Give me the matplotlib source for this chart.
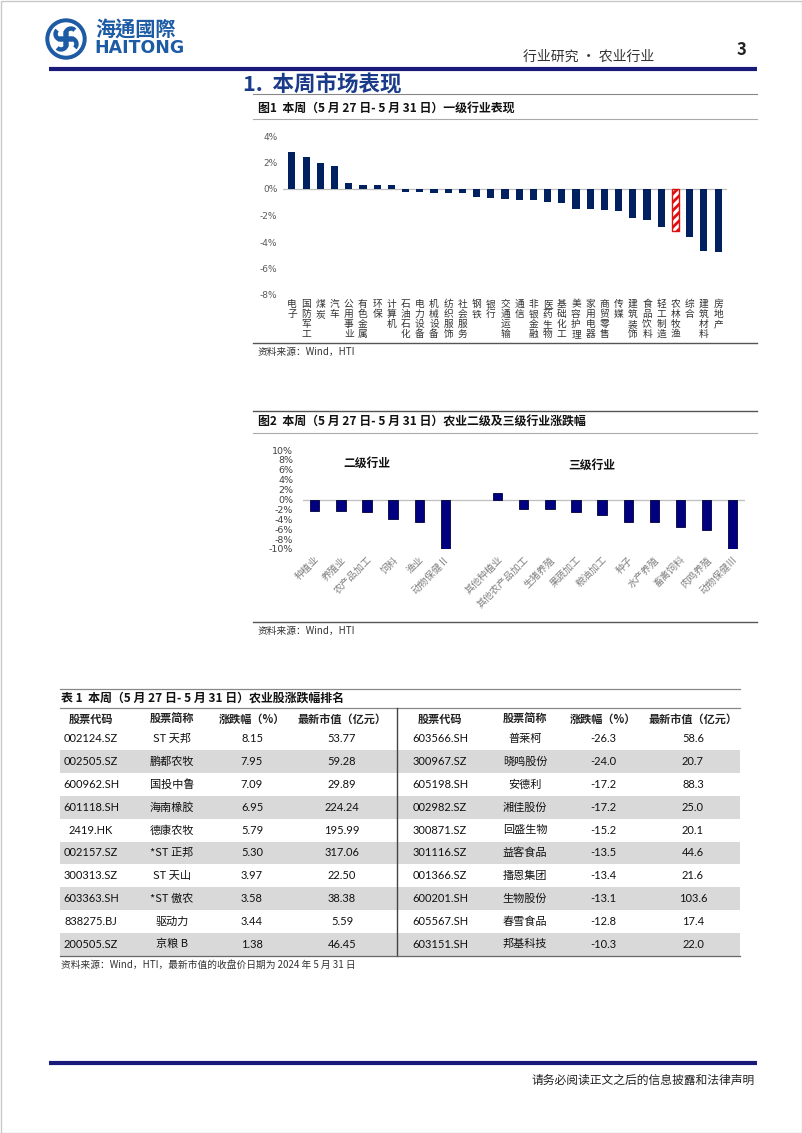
import numpy as np
import matplotlib
matplotlib.use("Agg")
import matplotlib.pyplot as plt
from matplotlib.patches import Circle, Rectangle, Arc
from matplotlib.transforms import blended_transform_factory

plt.rcParams['font.family'] = ['Noto Sans CJK SC', 'DejaVu Sans']
plt.rcParams['hatch.linewidth'] = 2.0

W, H = 802, 1133
NAVY = '#002060'
BLUE = '#1d5ba4'
LATIN = ['Lato', 'Noto Sans CJK SC']

# ---- data: chart 1 (一级行业) ----
ind1_names = ['电子', '国防军工', '煤炭', '汽车', '公用事业', '有色金属', '环保', '计算机',
              '石油石化', '电力设备', '机械设备', '纺织服饰', '社会服务', '钢铁', '银行',
              '交通运输', '通信', '非银金融', '医药生物', '基础化工', '美容护理', '家用电器',
              '商贸零售', '传媒', '建筑装饰', '食品饮料', '轻工制造', '农林牧渔', '综合',
              '建筑材料', '房地产']
ind1_values = [2.83, 2.40, 2.00, 1.70, 0.45, 0.30, 0.30, 0.30, -0.20, -0.20, -0.30, -0.30,
               -0.30, -0.60, -0.70, -0.75, -0.80, -0.85, -0.95, -1.03, -1.48, -1.53, -1.58,
               -1.63, -2.20, -2.33, -2.88, -3.15, -3.65, -4.65, -4.75]
highlight = '农林牧渔'
ind1_ticks = [4, 2, 0, -2, -4, -6, -8]

# ---- data: chart 2 (二级 / 三级) ----
ind2_names = ['种植业', '养殖业', '农产品加工', '饲料', '渔业', '动物保健Ⅱ']
ind2_values = [-2.4, -2.4, -2.5, -3.9, -4.5, -10.1]
ind3_names = ['其他种植业', '其他农产品加工', '生猪养殖', '果蔬加工', '粮油加工', '种子',
              '水产养殖', '畜禽饲料', '肉鸡养殖', '动物保健Ⅲ']
ind3_values = [1.3, -1.9, -2.0, -2.6, -3.1, -4.5, -4.5, -5.6, -6.1, -10.1]
ind23_ticks = [10, 8, 6, 4, 2, 0, -2, -4, -6, -8, -10]

# ---- data: table ----
table_header = ['股票代码', '股票简称', '涨跌幅（%）', '最新市值（亿元）']
gain_codes = ['002124.SZ', '002505.SZ', '600962.SH', '601118.SH', '2419.HK',
              '002157.SZ', '300313.SZ', '603363.SH', '838275.BJ', '200505.SZ']
gain_names = ['ST 天邦', '鹏都农牧', '国投中鲁', '海南橡胶', '德康农牧',
              '*ST 正邦', 'ST 天山', '*ST 傲农', '驱动力', '京粮 B']
gain_pct = ['8.15', '7.95', '7.09', '6.95', '5.79', '5.30', '3.97', '3.58', '3.44', '1.38']
gain_cap = ['53.77', '59.28', '29.89', '224.24', '195.99', '317.06', '22.50', '38.38', '5.59', '46.45']
loss_codes = ['603566.SH', '300967.SZ', '605198.SH', '002982.SZ', '300871.SZ',
              '301116.SZ', '001366.SZ', '600201.SH', '605567.SH', '603151.SH']
loss_names = ['普莱柯', '晓鸣股份', '安德利', '湘佳股份', '回盛生物',
              '益客食品', '播恩集团', '生物股份', '春雪食品', '邦基科技']
loss_pct = ['-26.3', '-24.0', '-17.2', '-17.2', '-15.2', '-13.5', '-13.4', '-13.1', '-12.8', '-10.3']
loss_cap = ['58.6', '20.7', '88.3', '25.0', '20.1', '44.6', '21.6', '103.6', '17.4', '22.0']


def fig_rect(left, top, right, bottom):
    return [left / W, 1 - bottom / H, (right - left) / W, (bottom - top) / H]


fig = plt.figure(figsize=(W / 100, H / 100), dpi=100)
page = fig.add_axes([0, 0, 1, 1])
page.set_xlim(0, W)
page.set_ylim(H, 0)
page.axis('off')

# page border
page.add_patch(Rectangle((0.5, 0.5), W - 1, H - 1, fill=False, ec='#c8c8c8', lw=1))

# ---- logo ----
cx, cy = 66, 39
page.add_patch(Circle((cx, cy), 20, color=BLUE))
page.add_patch(Circle((cx, cy), 16, color='white'))
for ang in [45, 135, 225, 315]:
    dx, dy = 7 * np.cos(np.radians(ang)), 7 * np.sin(np.radians(ang))
    page.add_patch(Arc((cx + dx, cy + dy), 11, 11, angle=ang, theta1=90, theta2=360,
                       color=BLUE, lw=3.2))
page.add_patch(Circle((cx, cy), 2.2, color=BLUE))
page.text(95, 29, '海通國際', family=['Noto Sans CJK TC'], fontsize=14.5, color=BLUE,
          fontweight='bold', va='center', ha='left')
page.text(94, 48, 'HAITONG', family=['DejaVu Sans'], fontsize=12.5, color=BLUE,
          fontweight='bold', va='center', ha='left')

page.text(523, 57, '行业研究 • 农业行业', fontsize=10, color='#333333', va='center', ha='left')
page.text(741, 50, '3', fontsize=12, fontweight='bold', color='#222222', va='center', ha='center')
page.plot([49, 757], [69, 69], color='#1a1a7a', lw=3, solid_capstyle='butt')

page.text(243, 85, '1.  本周市场表现', fontsize=15.5, fontweight='bold', color='#1a3a8a',
          va='center', ha='left')
page.plot([253, 757], [94, 94], color='#888888', lw=0.8)

# ---- chart 1 captions ----
page.text(258, 108, '图1  本周（5 月 27 日- 5 月 31 日）一级行业表现', fontsize=8.6,
          fontweight='bold', color='#111111', va='center', ha='left')
page.plot([253, 757], [119, 119], color='#aaaaaa', lw=0.8)
page.plot([253, 757], [343, 343], color='#555555', lw=1.0)
page.text(258, 352, '资料来源：Wind，HTI', fontsize=7, color='#333333', va='center', ha='left')

ax1 = fig.add_axes(fig_rect(283, 136, 727, 295))
x1 = np.arange(len(ind1_names))
colors1 = ['white' if n == highlight else NAVY for n in ind1_names]
bars1 = ax1.bar(x1, ind1_values, width=0.5, color=colors1, zorder=3)
for b, n in zip(bars1, ind1_names):
    if n == highlight:
        b.set_edgecolor('#e01010')
        b.set_hatch('////')
        b.set_linewidth(1.0)
ax1.set_xlim(-0.63, len(ind1_names) - 1 + 0.63)
ax1.set_ylim(-8, 4)
ax1.axhline(0, color='#bfbfbf', lw=0.9, zorder=1)
ax1.set_yticks(ind1_ticks)
ax1.set_yticklabels([f'{v}%' for v in ind1_ticks], fontsize=6.5, color='#595959',
                    family=['DejaVu Sans'])
ax1.tick_params(axis='y', length=0, pad=4)
ax1.set_xticks([])
for s in ax1.spines.values():
    s.set_visible(False)
tr1 = blended_transform_factory(ax1.transData, ax1.transAxes)
for i, name in enumerate(ind1_names):
    for j, ch in enumerate(name):
        ax1.text(i, -0.057 - j * 0.063, ch, transform=tr1, ha='center', va='center',
                 fontsize=7, color='#333333')

# ---- chart 2 ----
page.plot([253, 757], [411, 411], color='#555555', lw=1.0)
page.text(258, 422, '图2  本周（5 月 27 日- 5 月 31 日）农业二级及三级行业涨跌幅', fontsize=8.6,
          fontweight='bold', color='#111111', va='center', ha='left')
page.plot([253, 757], [433, 433], color='#aaaaaa', lw=0.8)
page.plot([253, 757], [622, 622], color='#555555', lw=1.0)
page.text(258, 631, '资料来源：Wind，HTI', fontsize=7, color='#333333', va='center', ha='left')

ax2 = fig.add_axes(fig_rect(303, 450, 745, 549))
names2 = ind2_names + [''] + ind3_names
values2 = ind2_values + [np.nan] + ind3_values
x2 = np.arange(len(names2))
ax2.bar(x2, values2, width=0.36, color='#000080', edgecolor='#00003a', lw=0.6, zorder=3)
ax2.set_xlim(-0.45, len(names2) - 1 + 0.47)
ax2.set_ylim(-10, 10)
ax2.axhline(0, color='#bfbfbf', lw=0.9, zorder=1)
ax2.set_yticks(ind23_ticks)
ax2.set_yticklabels([f'{v}%' for v in ind23_ticks], fontsize=6.8, color='#404040',
                    family=['DejaVu Sans'])
ax2.tick_params(axis='y', length=0, pad=7)
ax2.set_xticks([])
for s in ax2.spines.values():
    s.set_visible(False)
tr2 = blended_transform_factory(ax2.transData, ax2.transAxes)
for i, name in enumerate(names2):
    if name:
        ax2.text(i + 0.12, -0.09, name, transform=tr2, rotation=45, rotation_mode='anchor',
                 ha='right', va='center', fontsize=7, color='#808080')
ax2.text(2.0, 0.87, '二级行业', transform=tr2, ha='center', va='center', fontsize=8.5,
         fontweight='bold', color='#111111')
ax2.text(10.6, 0.85, '三级行业', transform=tr2, ha='center', va='center', fontsize=8.5,
         fontweight='bold', color='#111111')

# ---- table ----
t_left, t_right, t_mid = 60, 740, 397
page.plot([t_left, t_right], [689, 689], color='#888888', lw=0.9)
page.text(61, 698, '表 1  本周（5 月 27 日- 5 月 31 日）农业股涨跌幅排名', fontsize=8.6,
          fontweight='bold', color='#111111', va='center', ha='left')
page.plot([t_left, t_right], [708, 708], color='#888888', lw=0.9)

header_y = 719
row_y0, row_h = 739, 22.8
left_cols = [91, 172, 252, 342]
right_cols = [440, 525, 603, 693]
for cols in (left_cols, right_cols):
    for c, h in zip(cols, table_header):
        page.text(c, header_y, h, fontsize=8, fontweight='bold', color='#222222',
                  ha='center', va='center')

for i in range(len(gain_codes)):
    yc = row_y0 + i * row_h
    if i % 2 == 1:
        page.add_patch(Rectangle((t_left, yc - row_h / 2), t_right - t_left, row_h,
                                 color='#d9d9d9', zorder=0, lw=0))
    left_vals = [gain_codes[i], gain_names[i], gain_pct[i], gain_cap[i]]
    right_vals = [loss_codes[i], loss_names[i], loss_pct[i], loss_cap[i]]
    for cols, vals in ((left_cols, left_vals), (right_cols, right_vals)):
        for k, (c, v) in enumerate(zip(cols, vals)):
            page.text(c, yc, v, fontsize=8, color='#111111',
                      family=LATIN if k != 1 else ['Noto Sans CJK SC', 'Lato'],
                      ha='center', va='center')

t_bottom = row_y0 + (len(gain_codes) - 0.5) * row_h
page.plot([t_mid, t_mid], [708, t_bottom], color='#444444', lw=1.0)
page.plot([t_left, t_right], [t_bottom, t_bottom], color='#666666', lw=0.9)
page.text(61, 965, '资料来源：Wind，HTI，最新市值的收盘价日期为 2024 年 5 月 31 日',
          fontsize=7, color='#333333', va='center', ha='left')

# ---- footer ----
page.plot([49, 757], [1063, 1063], color='#1a1a7a', lw=3, solid_capstyle='butt')
page.text(755, 1080, '请务必阅读正文之后的信息披露和法律声明', fontsize=8.5, color='#222222',
          va='center', ha='right')

fig.savefig('out.png', dpi=100)
